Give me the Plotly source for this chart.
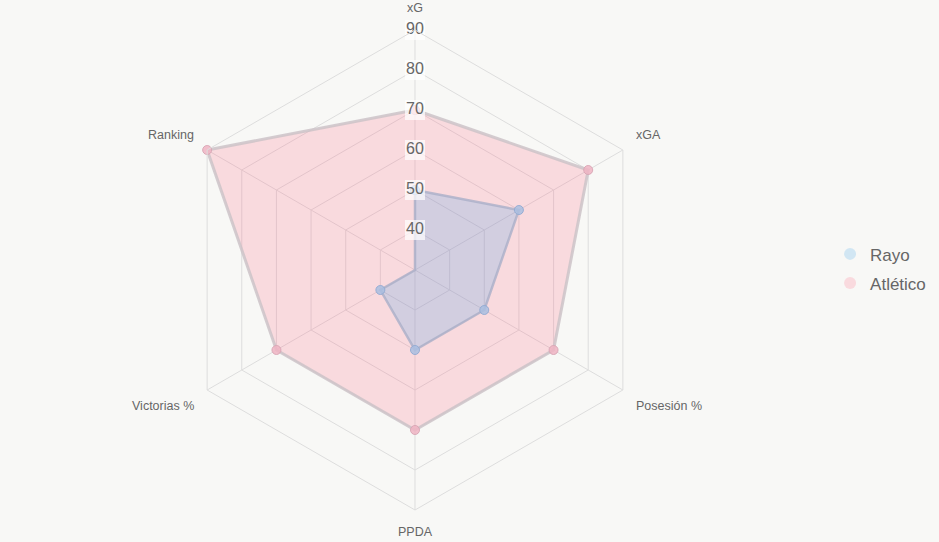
import math
import plotly.graph_objects as go

categories = ["xG", "xGA", "Posesión %", "PPDA", "Victorias %", "Ranking"]
rayo = [50, 60, 50, 50, 40, 30]
atletico = [70, 80, 70, 70, 70, 90]
radial_ticks = [40, 50, 60, 70, 80, 90]
series_names = ["Rayo", "Atlético"]

R_MIN, R_MAX = 30, 90

BG = "#f8f8f6"
FONT = "Liberation Sans, Arial, sans-serif"

fig = go.Figure()

def closed(v):
    return list(v) + [v[0]]

cats_closed = closed(categories)

fig.add_trace(go.Scatterpolar(
    r=closed(atletico), theta=cats_closed, mode="lines+markers",
    fill="toself", fillcolor="rgba(255,99,132,0.2)",
    line=dict(color="rgba(205,195,200,0.85)", width=3),
    marker=dict(size=9, color="rgba(240,180,195,0.85)",
                line=dict(color="rgba(215,165,180,0.9)", width=1)),
    name=series_names[1], showlegend=False, hoverinfo="skip"))

fig.add_trace(go.Scatterpolar(
    r=closed(rayo), theta=cats_closed, mode="lines+markers",
    fill="toself", fillcolor="rgba(54,162,235,0.2)",
    line=dict(color="rgba(170,175,200,0.8)", width=2.5),
    marker=dict(size=9, color="rgba(170,190,225,0.85)",
                line=dict(color="rgba(145,170,210,0.9)", width=1)),
    name=series_names[0], showlegend=False, hoverinfo="skip"))

# legend entries (circles)
fig.add_trace(go.Scatterpolar(r=[None], theta=[None], mode="markers",
    marker=dict(size=16, color="rgba(54,162,235,0.2)", line=dict(width=0)),
    name=series_names[0], legendgroup="a"))
fig.add_trace(go.Scatterpolar(r=[None], theta=[None], mode="markers",
    marker=dict(size=16, color="rgba(255,99,132,0.2)", line=dict(width=0)),
    name=series_names[1], legendgroup="b"))

# radial tick labels with backdrop
fig.add_trace(go.Scatterpolar(
    r=radial_ticks, theta=[categories[0]] * len(radial_ticks),
    mode="markers+text", text=[str(t) for t in radial_ticks],
    textposition="middle center",
    textfont=dict(family=FONT, size=16, color="#666666"),
    marker=dict(symbol="square", size=20, color="rgba(255,255,255,0.7)", line=dict(width=0)),
    showlegend=False, hoverinfo="skip", cliponaxis=False))

W, H = 939, 542
cx, cy, rad = 415, 270, 240

# angular point labels placed just outside the outer ring
LABEL_D = rad + 13
anchors = [("center", "bottom"), ("left", "bottom"), ("left", "top"),
           ("center", "top"), ("right", "top"), ("right", "bottom")]
annotations = []
n = len(categories)
for i, cat in enumerate(categories):
    ang = math.radians(90 - 360 * i / n)
    px = cx + LABEL_D * math.cos(ang)
    py = cy - LABEL_D * math.sin(ang)
    xa, ya = anchors[i]
    annotations.append(dict(
        x=px / W, y=1 - py / H, xref="paper", yref="paper",
        text=cat, showarrow=False, xanchor=xa, yanchor=ya,
        font=dict(family=FONT, size=12.5, color="#666666")))

fig.update_layout(
    width=W, height=H,
    margin=dict(l=0, r=0, t=0, b=0),
    paper_bgcolor=BG, plot_bgcolor=BG,
    font=dict(family=FONT, color="#666666"),
    annotations=annotations,
    polar=dict(
        bgcolor=BG,
        domain=dict(x=[(cx - rad) / W, (cx + rad) / W],
                    y=[1 - (cy + rad) / H, 1 - (cy - rad) / H]),
        gridshape="linear",
        radialaxis=dict(range=[R_MIN, R_MAX], tickvals=radial_ticks,
                        showticklabels=False, ticks="", showline=False,
                        gridcolor="#dddddd", gridwidth=1, angle=90),
        angularaxis=dict(direction="clockwise", rotation=90,
                         showticklabels=False, ticks="",
                         gridcolor="#dddddd", linecolor="#dddddd", linewidth=1,
                         categoryorder="array", categoryarray=categories),
    ),
    legend=dict(x=0.884, y=0.504, xanchor="left", yanchor="middle",
                font=dict(family=FONT, size=17, color="#666666"),
                bgcolor="rgba(0,0,0,0)", itemsizing="constant",
                tracegroupgap=4),
)

fig.write_html("out.html")
